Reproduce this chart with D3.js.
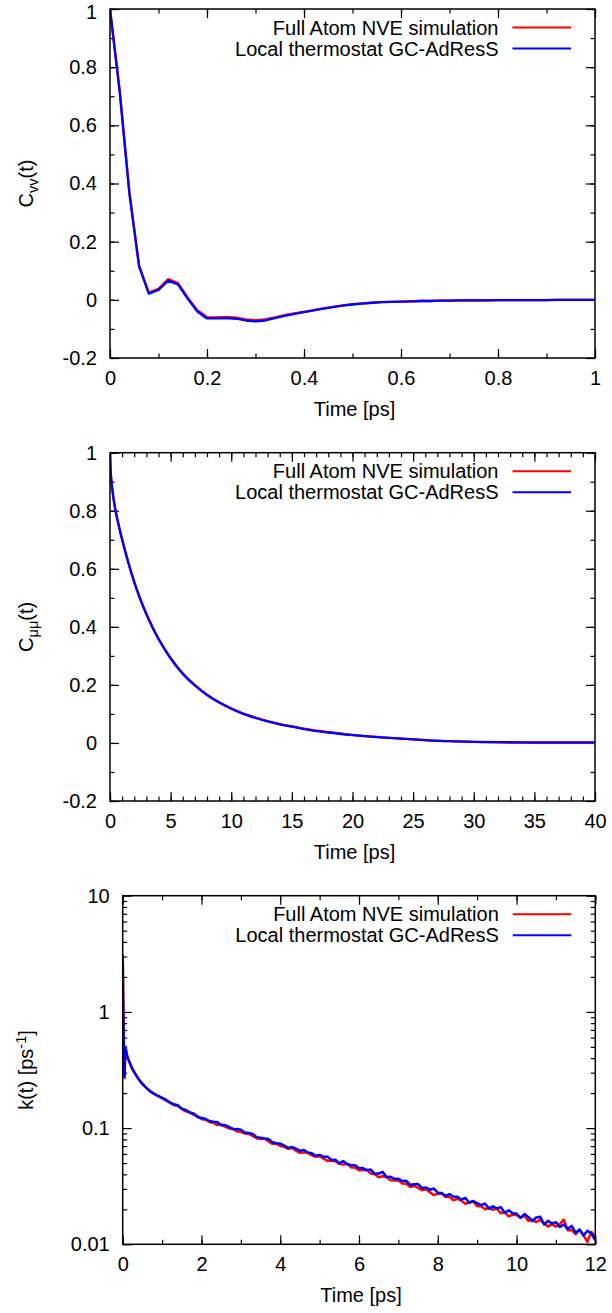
<!DOCTYPE html>
<html>
<head>
<meta charset="utf-8">
<script src="https://cdn.jsdelivr.net/npm/d3@7"></script>
<style>
  html, body { margin: 0; padding: 0; background: #fff; }
  svg { display: block; }
  text { font-family: "Liberation Sans", Arial, Helvetica, sans-serif; fill: #000; }
</style>
</head>
<body>
<script>
// ---------- DATA ----------
const seriesNames = ["Full Atom NVE simulation", "Local thermostat GC-AdResS"];
const seriesColors = ["#ff0000", "#0000ff"];

// Panel 1: velocity autocorrelation, t = 0 .. 1 ps (step 0.02)
const cvvTime = d3.range(0, 51).map(i => i * 0.02);
const cvvFull = [1.0, 0.72, 0.37, 0.118, 0.025, 0.038, 0.071, 0.058, 0.008, -0.036, -0.060,
  -0.060, -0.059, -0.061, -0.067, -0.070, -0.067, -0.060, -0.053, -0.047, -0.041,
  -0.035, -0.029, -0.024, -0.019, -0.015, -0.012, -0.010, -0.008, -0.007, -0.006,
  -0.005, -0.004, -0.004, -0.003, -0.003, -0.002, -0.002, -0.002, -0.002, -0.001,
  -0.001, -0.001, -0.001, -0.001, -0.001, 0, 0, 0, 0, 0];
const cvvLocal = [1.0, 0.715, 0.365, 0.114, 0.021, 0.034, 0.066, 0.053, 0.004, -0.040, -0.064,
  -0.064, -0.063, -0.065, -0.071, -0.074, -0.071, -0.063, -0.055, -0.048, -0.042,
  -0.036, -0.030, -0.025, -0.020, -0.016, -0.013, -0.010, -0.008, -0.007, -0.006,
  -0.005, -0.004, -0.004, -0.003, -0.003, -0.002, -0.002, -0.002, -0.002, -0.001,
  -0.001, -0.001, -0.001, -0.001, -0.001, 0, 0, 0, 0, 0];

// Panel 2: dipole autocorrelation, t = 0 .. 40 ps
const cmmTime = [0, 0.05, 0.1, 0.2, 0.4, 0.7, 1, 1.5, 2, 2.5, 3, 3.5, 4, 5, 6, 7, 8, 9, 10, 11,
  12, 13, 14, 15, 16, 18, 20, 22, 24, 26, 28, 30, 32, 34, 36, 38, 40];
const cmmFull = [1.0, 0.94, 0.91, 0.872, 0.815, 0.755, 0.703, 0.625, 0.556, 0.497,
  0.446, 0.400, 0.360, 0.293, 0.240, 0.199, 0.166, 0.140, 0.119, 0.101,
  0.087, 0.075, 0.065, 0.057, 0.049, 0.037, 0.028, 0.021, 0.015, 0.010,
  0.006, 0.004, 0.002, 0.001, 0.000, 0.000, 0.000];
const cmmLocal = [1.0, 0.94, 0.908, 0.870, 0.812, 0.752, 0.700, 0.622, 0.553, 0.494,
  0.443, 0.398, 0.358, 0.291, 0.238, 0.198, 0.165, 0.139, 0.118, 0.100,
  0.086, 0.074, 0.064, 0.056, 0.048, 0.036, 0.027, 0.020, 0.015, 0.010,
  0.006, 0.004, 0.003, 0.002, 0.002, 0.002, 0.002];

// Panel 3: reactive flux k(t), early part (0 .. 1 ps) then 1.1 .. 12 ps (step 0.1)
const kTimeEarly = [0, 0.01, 0.02, 0.03, 0.04, 0.05, 0.06, 0.07, 0.08, 0.09, 0.1, 0.12, 0.15,
  0.2, 0.25, 0.3, 0.4, 0.5, 0.6, 0.7, 0.8, 0.9, 1.0];
const kFullEarly = [3.1, 1.6, 0.85, 0.5, 0.33, 0.27, 0.42, 0.47, 0.45, 0.44, 0.43, 0.41, 0.385,
  0.35, 0.32, 0.30, 0.265, 0.240, 0.222, 0.207, 0.197, 0.188, 0.181];
const kLocalEarly = [3.0, 1.5, 0.8, 0.48, 0.32, 0.28, 0.45, 0.50, 0.46, 0.47, 0.44, 0.41, 0.385,
  0.35, 0.32, 0.30, 0.265, 0.240, 0.222, 0.207, 0.197, 0.189, 0.182];
const kTimeLate = d3.range(11, 121).map(i => i / 10);
const kFullLate = [
  0.1722, 0.1670, 0.1572, 0.1556, 0.1465, 0.1394, 0.1366, 0.1299, 0.1273, 0.1198,
  0.1180, 0.1128, 0.1111, 0.1061, 0.1078, 0.1030, 0.0994, 0.0989, 0.0935, 0.0931,
  0.0897, 0.0890, 0.0857, 0.0818, 0.0804, 0.0814, 0.0768, 0.0732, 0.0735, 0.0701,
  0.0692, 0.0663, 0.0675, 0.0640, 0.0612, 0.0618, 0.0610, 0.0584, 0.0566, 0.0576,
  0.0546, 0.0522, 0.0526, 0.0519, 0.0492, 0.0485, 0.0494, 0.0459, 0.0457, 0.0433,
  0.0436, 0.0438, 0.0406, 0.0400, 0.0378, 0.0385, 0.0379, 0.0355, 0.0354, 0.0356,
  0.0333, 0.0332, 0.0311, 0.0319, 0.0305, 0.0292, 0.0299, 0.0280, 0.0265, 0.0272,
  0.0274, 0.0255, 0.0255, 0.0239, 0.0247, 0.0237, 0.0223, 0.0230, 0.0234, 0.0213,
  0.0213, 0.0200, 0.0208, 0.0198, 0.0203, 0.0185, 0.0189, 0.0174, 0.0179, 0.0179,
  0.0169, 0.0177, 0.0159, 0.0163, 0.0155, 0.0162, 0.0152, 0.0142, 0.0149, 0.0142,
  0.0149, 0.0163, 0.0132, 0.0133, 0.0122, 0.0133, 0.0120, 0.0105, 0.0128, 0.0115];
const kLocalLate = [
  0.1756, 0.1653, 0.1604, 0.1572, 0.1465, 0.1436, 0.1366, 0.1338, 0.1247, 0.1222,
  0.1204, 0.1151, 0.1133, 0.1127, 0.1056, 0.1061, 0.1024, 0.0979, 0.0983, 0.0968,
  0.0915, 0.0908, 0.0892, 0.0835, 0.0828, 0.0814, 0.0807, 0.0755, 0.0742, 0.0736,
  0.0706, 0.0676, 0.0688, 0.0666, 0.0638, 0.0649, 0.0616, 0.0608, 0.0577, 0.0587,
  0.0568, 0.0566, 0.0531, 0.0535, 0.0497, 0.0520, 0.0489, 0.0482, 0.0480, 0.0451,
  0.0453, 0.0433, 0.0440, 0.0404, 0.0406, 0.0420, 0.0379, 0.0381, 0.0365, 0.0366,
  0.0350, 0.0352, 0.0324, 0.0329, 0.0330, 0.0304, 0.0308, 0.0295, 0.0302, 0.0278,
  0.0277, 0.0260, 0.0271, 0.0257, 0.0257, 0.0242, 0.0251, 0.0227, 0.0236, 0.0226,
  0.0217, 0.0224, 0.0202, 0.0212, 0.0203, 0.0209, 0.0187, 0.0196, 0.0185, 0.0184,
  0.0169, 0.0182, 0.0172, 0.0158, 0.0170, 0.0173, 0.0148, 0.0159, 0.0151, 0.0155,
  0.0141, 0.0148, 0.0136, 0.0144, 0.0126, 0.0134, 0.0119, 0.0131, 0.0124, 0.0108];

// Tick values
const p1XTicks = [0, 0.2, 0.4, 0.6, 0.8, 1];
const p1XMinor = d3.range(0, 11).map(i => i / 10);
const linYTicks = [-0.2, 0, 0.2, 0.4, 0.6, 0.8, 1];
const linYMinor = d3.range(-2, 11).map(i => i / 10);
const p2XTicks = [0, 5, 10, 15, 20, 25, 30, 35, 40];
const p2XMinor = d3.range(0, 41);
const p3XTicks = [0, 2, 4, 6, 8, 10, 12];
const p3XMinor = d3.range(0, 13);
const p3YTicks = [0.01, 0.1, 1, 10];
const p3YLabels = ["0.01", "0.1", "1", "10"];
const p3YMinor = [0.01, 0.1, 1].flatMap(d => d3.range(2, 10).map(k => +(d * k).toPrecision(3)));

// ---------- DRAWING ----------
const W = 612, H = 1313;
const FS = 20;
const SUB = 14.5;
const svg = d3.select("body").append("svg").attr("width", W).attr("height", H);

function fmt(v) { return String(+v.toFixed(3)); }

function drawPanel(cfg) {
  const { x0, x1, y0, y1, xScale, yScale, series, xTicks, xMinor, yTicks, yMinor,
          yFmt, xFmt, ylabel, curve, clipId, lw, topLabelShift } = cfg;
  const g = svg.append("g");
  const majorLen = 9, minorLen = 4.5;

  svg.append("clipPath").attr("id", clipId)
    .append("rect").attr("x", x0).attr("y", y0).attr("width", x1 - x0).attr("height", y1 - y0);

  const axB = g.append("g").attr("transform", `translate(0,${y1})`)
    .call(d3.axisBottom(xScale).tickValues(xTicks).tickSize(-majorLen).tickPadding(13).tickFormat(xFmt));
  const axBm = g.append("g").attr("transform", `translate(0,${y1})`)
    .call(d3.axisBottom(xScale).tickValues(xMinor).tickSize(-minorLen).tickFormat(""));
  const axT = g.append("g").attr("transform", `translate(0,${y0})`)
    .call(d3.axisTop(xScale).tickValues(xTicks).tickSize(-majorLen).tickFormat(""));
  const axTm = g.append("g").attr("transform", `translate(0,${y0})`)
    .call(d3.axisTop(xScale).tickValues(xMinor).tickSize(-minorLen).tickFormat(""));
  const axL = g.append("g").attr("transform", `translate(${x0},0)`)
    .call(d3.axisLeft(yScale).tickValues(yTicks).tickSize(-majorLen).tickPadding(13).tickFormat(yFmt));
  const axLm = g.append("g").attr("transform", `translate(${x0},0)`)
    .call(d3.axisLeft(yScale).tickValues(yMinor).tickSize(-minorLen).tickFormat(""));
  const axR = g.append("g").attr("transform", `translate(${x1},0)`)
    .call(d3.axisRight(yScale).tickValues(yTicks).tickSize(-majorLen).tickFormat(""));
  const axRm = g.append("g").attr("transform", `translate(${x1},0)`)
    .call(d3.axisRight(yScale).tickValues(yMinor).tickSize(-minorLen).tickFormat(""));

  [axB, axBm, axT, axTm, axL, axLm, axR, axRm].forEach(a => {
    a.select(".domain").remove();
    a.selectAll("line").attr("stroke", "#000").attr("stroke-width", 1.2);
    a.selectAll("text").attr("font-size", FS).attr("font-family", null).attr("fill", "#000");
  });

  // keep the topmost y tick label inside the page, as in the reference
  if (topLabelShift) {
    const top = yTicks[yTicks.length - 1];
    axL.selectAll(".tick").filter(d => d === top).select("text")
      .attr("y", topLabelShift);
  }

  const lineGen = d3.line().x(d => xScale(d[0])).y(d => yScale(d[1])).curve(curve);
  const lg = g.append("g").attr("clip-path", `url(#${clipId})`);
  series.forEach((s, i) => {
    lg.append("path").datum(s).attr("d", lineGen)
      .attr("fill", "none").attr("stroke", seriesColors[i]).attr("stroke-width", lw)
      .attr("stroke-linejoin", "round");
  });

  g.append("rect").attr("x", x0).attr("y", y0).attr("width", x1 - x0).attr("height", y1 - y0)
    .attr("fill", "none").attr("stroke", "#000").attr("stroke-width", 1.5);

  const rows = [y0 + 18.5, y0 + 39.5];
  seriesNames.forEach((name, i) => {
    g.append("text").attr("x", x1 - 96.5).attr("y", rows[i] + 7)
      .attr("text-anchor", "end").attr("font-size", FS).text(name);
    g.append("line").attr("x1", x1 - 82.5).attr("x2", x1 - 24)
      .attr("y1", rows[i]).attr("y2", rows[i])
      .attr("stroke", seriesColors[i]).attr("stroke-width", 2);
  });

  g.append("text").attr("x", (x0 + x1) / 2 + 2).attr("y", y1 + 57.5)
    .attr("text-anchor", "middle").attr("font-size", FS).text("Time [ps]");

  const yl = g.append("text")
    .attr("transform", `translate(33,${(y0 + y1) / 2}) rotate(-90)`)
    .attr("text-anchor", "middle").attr("font-size", FS);
  ylabel(yl);
}

// Panel 1
(function () {
  const x0 = 110, x1 = 595, y0 = 9, y1 = 358;
  drawPanel({
    x0, x1, y0, y1, clipId: "c1", lw: 2.3, topLabelShift: 3,
    xScale: d3.scaleLinear().domain([0, 1]).range([x0, x1]),
    yScale: d3.scaleLinear().domain([-0.2, 1]).range([y1, y0]),
    series: [cvvTime.map((t, i) => [t, cvvFull[i]]), cvvTime.map((t, i) => [t, cvvLocal[i]])],
    xTicks: p1XTicks, xMinor: p1XMinor, yTicks: linYTicks, yMinor: linYMinor,
    xFmt: fmt, yFmt: fmt, curve: d3.curveLinear,
    ylabel: t => {
      t.append("tspan").text("C");
      t.append("tspan").attr("font-size", SUB).attr("dy", 5).text("vv");
      t.append("tspan").attr("dy", -5).text("(t)");
    }
  });
})();

// Panel 2
(function () {
  const x0 = 110, x1 = 595, y0 = 452.7, y1 = 801;
  drawPanel({
    x0, x1, y0, y1, clipId: "c2", lw: 2.3,
    xScale: d3.scaleLinear().domain([0, 40]).range([x0, x1]),
    yScale: d3.scaleLinear().domain([-0.2, 1]).range([y1, y0]),
    series: [cmmTime.map((t, i) => [t, cmmFull[i]]), cmmTime.map((t, i) => [t, cmmLocal[i]])],
    xTicks: p2XTicks, xMinor: p2XMinor, yTicks: linYTicks, yMinor: linYMinor,
    xFmt: fmt, yFmt: fmt, curve: d3.curveMonotoneX,
    ylabel: t => {
      t.append("tspan").text("C");
      t.append("tspan").attr("font-size", SUB).attr("dy", 5).text("μμ");
      t.append("tspan").attr("dy", -5).text("(t)");
    }
  });
})();

// Panel 3
(function () {
  const x0 = 122.7, x1 = 595.3, y0 = 895.7, y1 = 1244.3;
  const tAll = kTimeEarly.concat(kTimeLate);
  const fAll = kFullEarly.concat(kFullLate);
  const lAll = kLocalEarly.concat(kLocalLate);
  drawPanel({
    x0, x1, y0, y1, clipId: "c3", lw: 2.5,
    xScale: d3.scaleLinear().domain([0, 12]).range([x0, x1]),
    yScale: d3.scaleLog().domain([0.01, 10]).range([y1, y0]),
    series: [tAll.map((t, i) => [t, fAll[i]]), tAll.map((t, i) => [t, lAll[i]])],
    xTicks: p3XTicks, xMinor: p3XMinor, yTicks: p3YTicks, yMinor: p3YMinor,
    xFmt: fmt, yFmt: (d, i) => p3YLabels[i], curve: d3.curveLinear,
    ylabel: t => {
      t.append("tspan").text("k(t) [ps");
      t.append("tspan").attr("font-size", SUB).attr("dy", -7).text("-1");
      t.append("tspan").attr("dy", 7).text("]");
    }
  });
})();
</script>
</body>
</html>
